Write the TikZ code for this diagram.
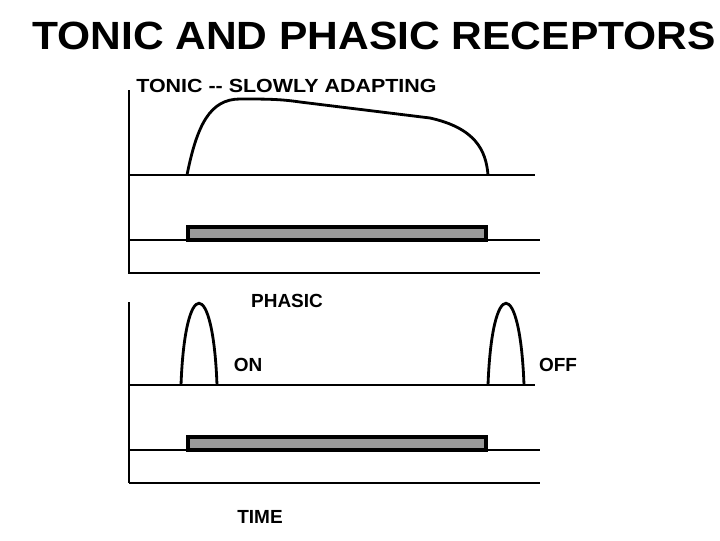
\documentclass[tikz,border=0pt]{standalone}
\usepackage{fontspec,graphicx}
\setmainfont{Liberation Sans}
\definecolor{bar}{HTML}{999999}

\begin{document}
\begin{tikzpicture}[x=0.025cm,y=-0.025cm,
  label/.style={font=\fontsize{13.5}{16}\selectfont\bfseries,inner sep=0pt},
  axis/.style={line width=1.4pt},
  base/.style={line width=2.1pt},
  trace/.style={line width=2pt},
  stim/.style={fill=bar,draw=black,line width=2.2pt}]
\useasboundingbox (0,0) rectangle (720,540);
\node[inner sep=0pt] (title) at (374,36) {\fontsize{28}{31}\selectfont\bfseries\scalebox{1.08}[1]{TONIC AND PHASIC RECEPTORS}};
% tonic panel
\node[label,anchor=west] (tonic) at (136,86) {\scalebox{1.13}[1]{TONIC {-}{-} SLOWLY ADAPTING}};
\draw[axis] (129,90) -- (129,273) -- (540,273);
\draw[base] (129,175) -- (535,175);
\draw[axis] (129,240) -- (540,240);
\draw[stim] (188,240) -- (188,227) -- (486,227) -- (486,240) -- cycle;
\draw[trace] (187,175) .. controls (197,125) and (210,99) .. (240,99)
  .. controls (265,99) and (280,99) .. (300,102) -- (430,118)
  .. controls (475,128) and (486,150) .. (488,175);
% phasic panel
\node[label] (phasic) at (287,301) {PHASIC};
\node[label] (on) at (248,365) {ON};
\node[label] (off) at (558,365) {OFF};
\node[label] (time) at (260,517) {TIME};
\draw[axis] (129,302) -- (129,483);
\draw[axis] (129,385) -- (535,385);
\draw[axis] (129,450) -- (540,450);
\draw[base] (129,483) -- (540,483);
\draw[stim] (188,450) -- (188,437) -- (486,437) -- (486,450) -- cycle;
\draw[trace] (181,385) .. controls (185,276) and (213,276) .. (217,385);
\draw[trace] (488,385) .. controls (492,276) and (520,276) .. (524,385);
\end{tikzpicture}
\end{document}
